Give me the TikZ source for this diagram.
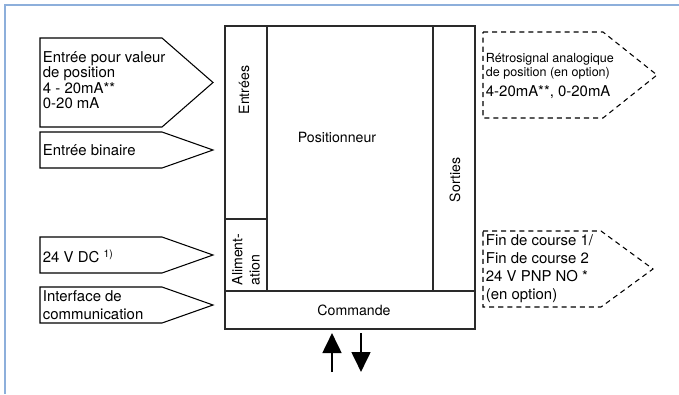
\documentclass[tikz,border=0pt]{standalone}
\usepackage{fontspec}
\setmainfont{TeX Gyre Heros}
\usetikzlibrary{arrows.meta}
\definecolor{cframe}{HTML}{8DAFDB}
\definecolor{cline}{HTML}{2A2A2A}
\tikzset{
  every picture/.style={x=0.75pt, y=-0.75pt},
  edge/.style={draw=cframe, line width=1.2pt},
  wall/.style={draw=cline, line width=1pt},
  inbox/.style={draw=black, line width=0.8pt, line join=miter},
  outbox/.style={draw=black, line width=0.8pt, dash pattern=on 3.8pt off 3pt},
  lbl/.style={anchor=west, align=left, inner sep=2pt, font=\fontsize{11.2}{11.5}\selectfont},
  part/.style={inner sep=1pt, font=\fontsize{10.6}{13}\selectfont},
  bigarrow/.style={-{Triangle[width=14pt, length=15pt]}, line width=2.1pt},
}

\begin{document}
\begin{tikzpicture}
  \useasboundingbox (0,0) rectangle (679,394);
  \draw[edge] (5,394) -- (5,5) -- (679,5);
  % positioner block
  \draw[wall] (225,26) rectangle (475,329);
  \draw[wall] (267,26) -- (267,291) (433,26) -- (433,291)
              (225,291) -- (475,291) (225,219) -- (267,219);
  \node[part, rotate=90] (inputs) at (244,90) {Entrées};
  \node[part] (core) at (337,137) {Positionneur};
  \node[part, rotate=90] (outputs) at (455,180) {Sorties};
  \node[part, rotate=90, anchor=west, align=left] (power) at (246,287) {Aliment-\\ation};
  \node[part] (ctrl) at (354,310) {Commande};
  % signals in (left)
  \foreach \t/\b in {38/127, 132/168, 237/273, 287/323}
    \draw[inbox] (40,\t) -- (162,\t) -- (213,{(\t+\b)/2}) -- (162,\b) -- (40,\b) -- cycle;
  \node[lbl] (posin) at (40,80) {Entrée pour valeur\\de position\\4 - 20mA**\\0-20 mA};
  \node[lbl] (binin) at (40,150) {Entrée binaire};
  \node[lbl] (supply) at (40,256) {24 V DC \textsuperscript{1)}};
  \node[lbl, font=\fontsize{11.2}{14}\selectfont] (comm) at (40,305) {Interface de\\communication};
  % optional outputs (right)
  \foreach \t/\b/\r/\p in {32/118/603/657, 231/307/601/653}
    \draw[outbox] (483,\t) -- (\r,\t) -- (\p,{(\t+\b)/2}) -- (\r,\b) -- (483,\b) -- cycle;
  \node[lbl, font=\fontsize{9.4}{10.5}\selectfont] (feedback) at (483,76)
    {Rétrosignal analogique\\de position (en option)\\[5pt]{\fontsize{11.2}{13}\selectfont 4-20mA**, 0-20mA}};
  \node[lbl, font=\fontsize{11.2}{13.5}\selectfont] (endstop) at (483,269)
    {Fin de course 1/\\Fin de course 2\\24 V PNP NO *\\(en option)};
  % control arrows
  \coordinate (upfoot) at (332,372);
  \coordinate (uptip) at (332,333);
  \coordinate (downfoot) at (361,333);
  \coordinate (downtip) at (361,372);
  \draw[bigarrow] (upfoot) -- (uptip);
  \draw[bigarrow] (downfoot) -- (downtip);
\end{tikzpicture}
\end{document}
